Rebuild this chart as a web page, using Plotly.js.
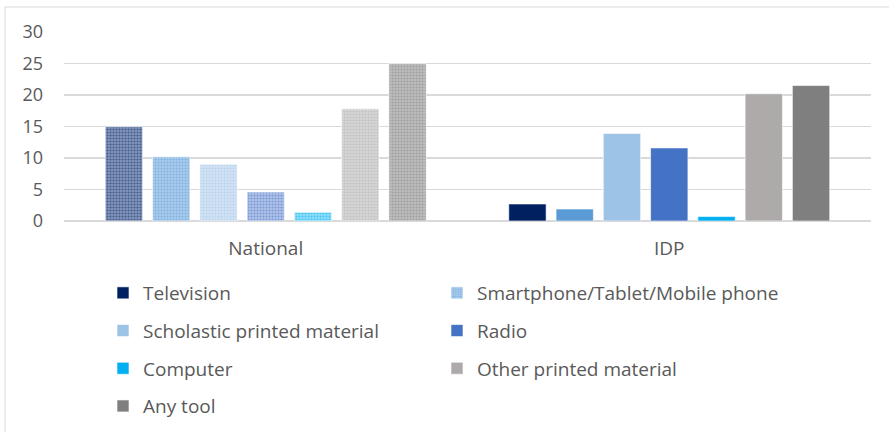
<!DOCTYPE html>
<html>
<head>
<meta charset="utf-8">
<script src="https://cdn.plot.ly/plotly-3.0.1.min.js"></script>
<style>html,body{margin:0;padding:0;background:#fff;}#chart{width:889px;height:432px;}</style>
</head>
<body>
<div id="chart"></div>
<script>
var categories = ['National', 'IDP'];
var seriesNames = ['Television', 'Smartphone/Tablet/Mobile phone', 'Scholastic printed material', 'Radio', 'Computer', 'Other printed material', 'Any tool'];
var nationalValues = [15.0, 10.2, 9.0, 4.6, 1.4, 17.8, 25.0];
var idpValues = [2.7, 1.9, 13.9, 11.6, 0.7, 20.2, 21.5];
var yTicks = [0, 5, 10, 15, 20, 25, 30];

var colors = ['#002060', '#5b9bd5', '#9dc3e6', '#4472c4', '#00b0f0', '#aeaaaa', '#7f7f7f'];
var lightColors = ['#8596bb', '#a9cbec', '#d3e3f4', '#b0c2e8', '#8fdcf8', '#d6d6d6', '#bdbdbd'];
// which legend column each series sits in
var legendOf = ['legend', 'legend2', 'legend', 'legend2', 'legend', 'legend2', 'legend'];
// the legend swatch follows the patterned (National) bar only for the smartphone series
var legendFromNational = [false, true, false, false, false, false, false];

var traces = [];
seriesNames.forEach(function (name, i) {
  traces.push({
    type: 'bar', name: name, x: [categories[0]], y: [nationalValues[i]],
    offsetgroup: 'g' + i, legendgroup: 'g' + i, legend: legendOf[i],
    showlegend: legendFromNational[i],
    marker: {
      color: colors[i],
      line: {color: 'rgba(255,255,255,0.6)', width: 1},
      pattern: {shape: '.', size: 3, solidity: 0.4, fgcolor: colors[i], bgcolor: lightColors[i], fillmode: 'overlay'}
    },
    hoverinfo: 'name+y'
  });
  traces.push({
    type: 'bar', name: name, x: [categories[1]], y: [idpValues[i]],
    offsetgroup: 'g' + i, legendgroup: 'g' + i, legend: legendOf[i],
    showlegend: !legendFromNational[i],
    marker: {color: colors[i], line: {color: 'rgba(255,255,255,0.6)', width: 1}},
    hoverinfo: 'name+y'
  });
});

var fontFam = '"Open Sans", "Noto Sans", sans-serif';
var legendCommon = {
  orientation: 'v', xref: 'container', yref: 'container', yanchor: 'top', xanchor: 'left',
  font: {family: fontFam, size: 19, color: '#595959'},
  tracegroupgap: 10, bgcolor: 'rgba(0,0,0,0)', itemclick: false
};

var layout = {
  width: 889, height: 432,
  margin: {l: 64, r: 18, t: 32, b: 211, autoexpand: false},
  paper_bgcolor: '#ffffff', plot_bgcolor: '#ffffff',
  barmode: 'group', bargap: 0.18, bargroupgap: 0.21,
  font: {family: fontFam, size: 19, color: '#595959'},
  xaxis: {
    type: 'category', categoryorder: 'array', categoryarray: categories,
    showgrid: false, showline: false, zeroline: false, ticks: '', tickangle: 0,
    ticklabelstandoff: 14, automargin: false,
    tickfont: {family: fontFam, size: 19, color: '#595959'}
  },
  yaxis: {
    range: [0, 30], tickvals: yTicks, ticktext: yTicks.map(String),
    showgrid: true, gridcolor: '#d9d9d9', gridwidth: 1.5,
    zeroline: true, zerolinecolor: '#d9d9d9', zerolinewidth: 1.5,
    showline: false, ticks: '', ticklabelstandoff: 20, automargin: false,
    tickfont: {family: fontFam, size: 18, color: '#595959'}
  },
  legend: Object.assign({}, legendCommon, {x: 103 / 889, y: 1 - 274 / 432}),
  legend2: Object.assign({}, legendCommon, {x: 437 / 889, y: 1 - 274 / 432}),
  shapes: [{
    type: 'rect', xref: 'paper', yref: 'paper',
    x0: (5 - 64) / 807, x1: 1.1, y0: -1.5, y1: (221 - 7) / 189,
    line: {color: '#d9d9d9', width: 1}, fillcolor: 'rgba(0,0,0,0)', layer: 'below'
  }]
};

Plotly.newPlot('chart', traces, layout, {displayModeBar: false, staticPlot: true});
</script>
</body>
</html>
